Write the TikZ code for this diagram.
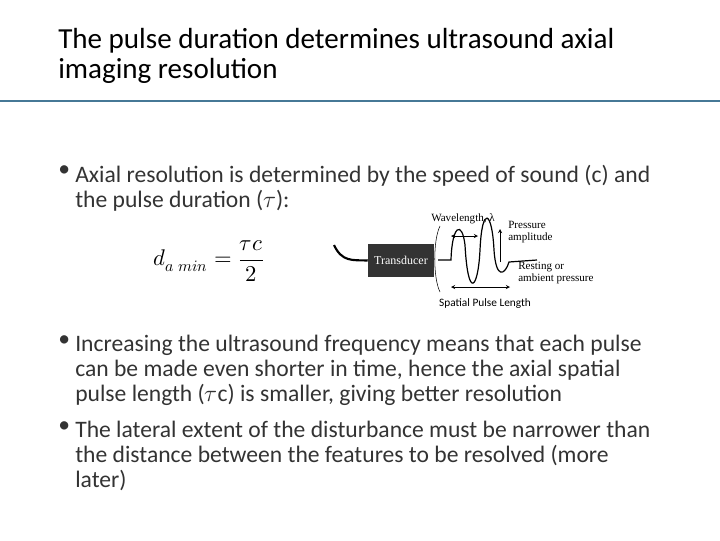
\documentclass[tikz,border=0pt]{standalone}
\usepackage{fontspec}
\setmainfont{Carlito}
\newfontfamily\serif{Liberation Serif}
\usepackage{unicode-math}
\setmathfont{Latin Modern Math}
\begin{document}
\begin{tikzpicture}[x=0.75pt,y=-0.75pt,
  body/.style={anchor=north west,align=left,font=\fontsize{17.7}{18.75}\selectfont,text=black!80,inner sep=0},
  small/.style={font=\serif\fontsize{8.3}{9.3}\selectfont,align=left,inner sep=0,anchor=west},
  dim/.style={<->,>=stealth,thin}]
\useasboundingbox (0,0) rectangle (720,540);
\node[anchor=north west,align=left,inner sep=0,font=\fontsize{21.8}{22.5}\selectfont] (title) at (58,28) {The pulse duration determines ultrasound axial\\imaging resolution};
\coordinate (l1) at (0,101); \coordinate (l2) at (720,101);
\draw[line width=2.2pt,color={rgb,255:red,70;green,120;blue,150}] (l1) -- (l2);
\node[body] (b1) at (58,165) {•};
\node[body] (t1) at (75,165) {Axial resolution is determined by the speed of sound (c) and\\the pulse duration ($\tau$):};
\node[anchor=west,inner sep=0,font=\fontsize{17}{20}\selectfont] (eq) at (153,261) {$d_{a\ min}=\dfrac{\tau c}{2}$};
\node[body] (b2) at (58,335) {•};
\node[body] (t2) at (75,335) {Increasing the ultrasound frequency means that each pulse\\can be made even shorter in time, hence the axial spatial\\pulse length ($\tau$c) is smaller, giving better resolution};
\node[body] (b3) at (58,421) {•};
\node[body] (t3) at (75,421) {The lateral extent of the disturbance must be narrower than\\the distance between the features to be resolved (more\\later)};
% figure
\node[fill=black!80,text=white,minimum width=66*0.75pt,minimum height=33*0.75pt,inner sep=0,font=\serif\fontsize{9}{10}\selectfont] (tr) at (401,260.5) {Transducer};
\coordinate (c0) at (334,245);
\draw[line width=1.6pt] (c0) .. controls (342,262) and (352,260) .. (tr.west);
\coordinate (ar1) at (440,226); \coordinate (ar2) at (440,292);
\draw (ar1) .. controls (433,240) and (433,278) .. (ar2);
\coordinate (w0) at (438,260);
\draw[line width=0.9pt] (w0) -- (451,260) .. controls (452,225) and (462,220) .. (465,245)
 .. controls (468,300) and (478,290) .. (480,250) .. controls (482,205) and (492,210) .. (494,250)
 .. controls (496,280) and (505,275) .. (509,262) -- (537,260);
\coordinate (wa) at (451,236); \coordinate (wb) at (478,236);
\draw[dim] (wa) -- (wb);
\coordinate (pa) at (500,262); \coordinate (pb) at (500,229);
\draw[->,>=stealth,thin] (pa) -- (pb);
\coordinate (sa) at (451,287); \coordinate (sb) at (510,287);
\draw[dim] (sa) -- (sb);
\node[small] (wl) at (431,219) {Wavelength, λ};
\node[small] (pr) at (508,232) {Pressure\\amplitude};
\node[small] (rs) at (518,273) {Resting or\\ambient pressure};
\node[inner sep=0,font=\fontsize{8.5}{9}\selectfont] (spl) at (485,304) {Spatial Pulse Length};
\end{tikzpicture}
\end{document}
